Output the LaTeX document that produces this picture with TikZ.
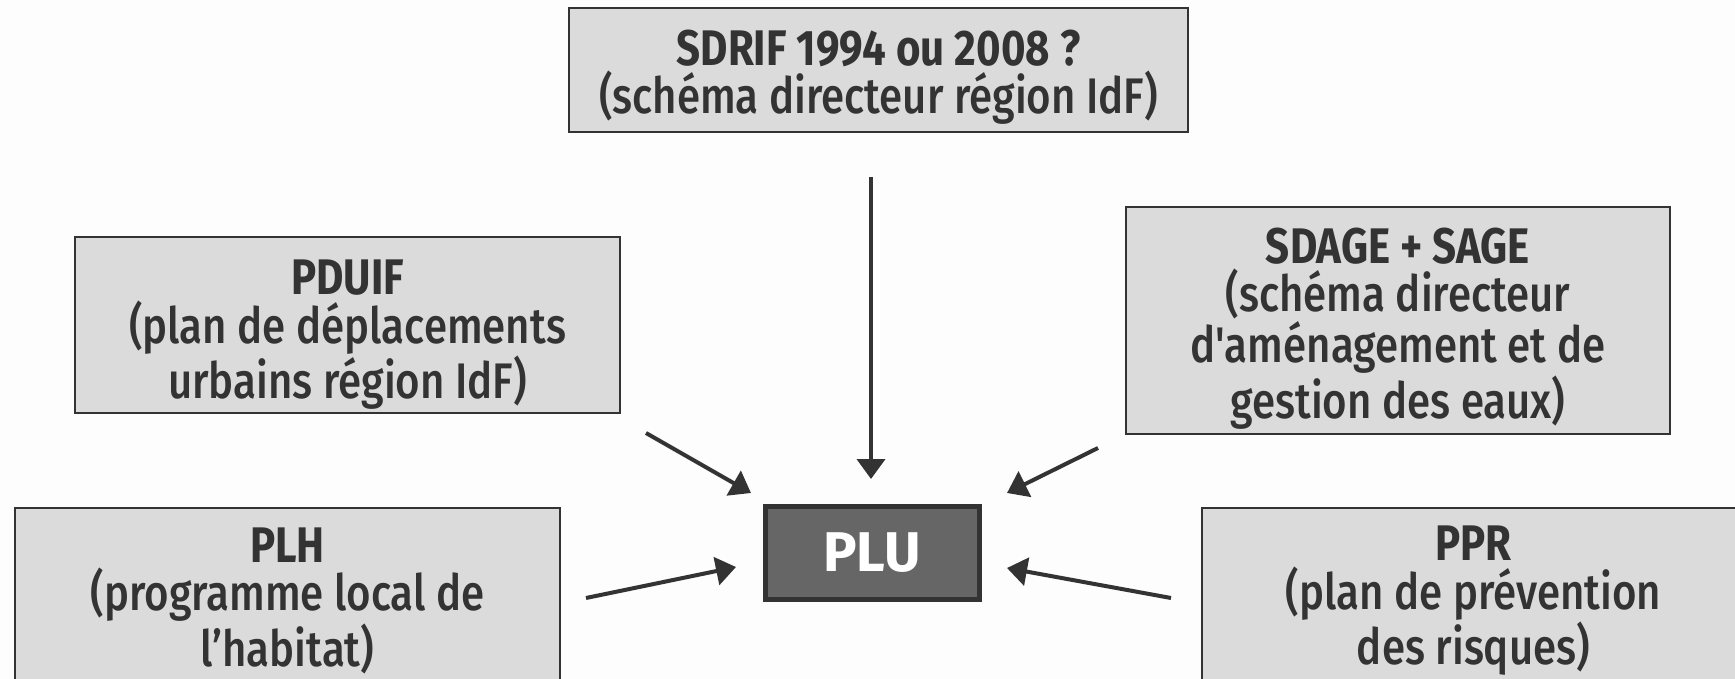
\documentclass[tikz,border=0pt]{standalone}
\usepackage{fontspec}
\setmainfont{Fira Sans}[UprightFont=* Medium, BoldFont=* Bold,
  FakeStretch=0.84, Ligatures=TeXOff]
\newfontfamily\plufont{Fira Sans Bold}
\usetikzlibrary{arrows.meta}
\definecolor{ink}{HTML}{333333}
\definecolor{boxfill}{HTML}{DBDBDB}
\definecolor{plufill}{HTML}{666666}
\definecolor{paper}{HTML}{FDFDFD}

\begin{document}
\begin{tikzpicture}[x=0.5pt,y=-0.5pt,
  docbox/.style={draw=ink, line width=1pt, fill=boxfill, inner sep=0pt},
  doctext/.style={text=ink, align=center, inner sep=0pt,
    font=\fontsize{25}{24.2}\selectfont},
  % box with its title and subtitle, text shifted by #1
  doc/.style n args={2}{docbox, label={[doctext, yshift=#1]center:{#2}}},
  flow/.style={draw=ink, line width=2pt,
    -{Triangle[length=10pt,width=14pt]}},
]
\useasboundingbox (0,0) rectangle (1735,679);
\clip (0,0) rectangle (1735,679);
\fill[paper] (0,0) rectangle (1735,679);

% documents that frame the PLU
\node[doc={-3.5pt}{\textbf{SDRIF 1994 ou 2008 ?}\\(schéma directeur région IdF)},
  minimum width=309.5pt, minimum height=62pt] (sdrif) at (878.5,70) {};
\node[doc={-5pt}{\textbf{PDUIF}\\(plan de déplacements\\urbains région IdF)},
  minimum width=272.5pt, minimum height=88pt] (pduif) at (347.5,325) {};
\node[doc={-4pt}{\textbf{SDAGE + SAGE}\\(schéma directeur\\d'aménagement et de\\gestion des eaux)},
  minimum width=272pt, minimum height=113.5pt] (sdage) at (1398,320.5) {};
\node[doc={1.5pt}{\textbf{PLH}\\(programme local de\\l’habitat)},
  minimum width=272.5pt, minimum height=96pt] (plh) at (287.5,604) {};
\node[doc={1.5pt}{\textbf{PPR}\\(plan de prévention\\des risques)},
  minimum width=271.5pt, minimum height=96pt] (ppr) at (1473.5,604) {};

% the local plan itself
\node[draw=ink, line width=2.5pt, fill=plufill, text=white,
  minimum width=107pt, minimum height=46.5pt, inner sep=0pt,
  font=\plufont\fontsize{28}{30}\selectfont] (plu) at (872,552.5) {PLU};

% arrow ends
\coordinate (sdrifA) at (871,177);  \coordinate (sdrifB) at (871,479);
\coordinate (pduifA) at (646,433);  \coordinate (pduifB) at (751,493);
\coordinate (sdageA) at (1098,448); \coordinate (sdageB) at (1007,493);
\coordinate (plhA)   at (586,598);  \coordinate (plhB)   at (736,567);
\coordinate (pprA)   at (1171,598); \coordinate (pprB)   at (1007,568);

\draw[flow] (sdrifA) -- (sdrifB);
\draw[flow] (pduifA) -- (pduifB);
\draw[flow] (sdageA) -- (sdageB);
\draw[flow] (plhA) -- (plhB);
\draw[flow] (pprA) -- (pprB);
\end{tikzpicture}
\end{document}
